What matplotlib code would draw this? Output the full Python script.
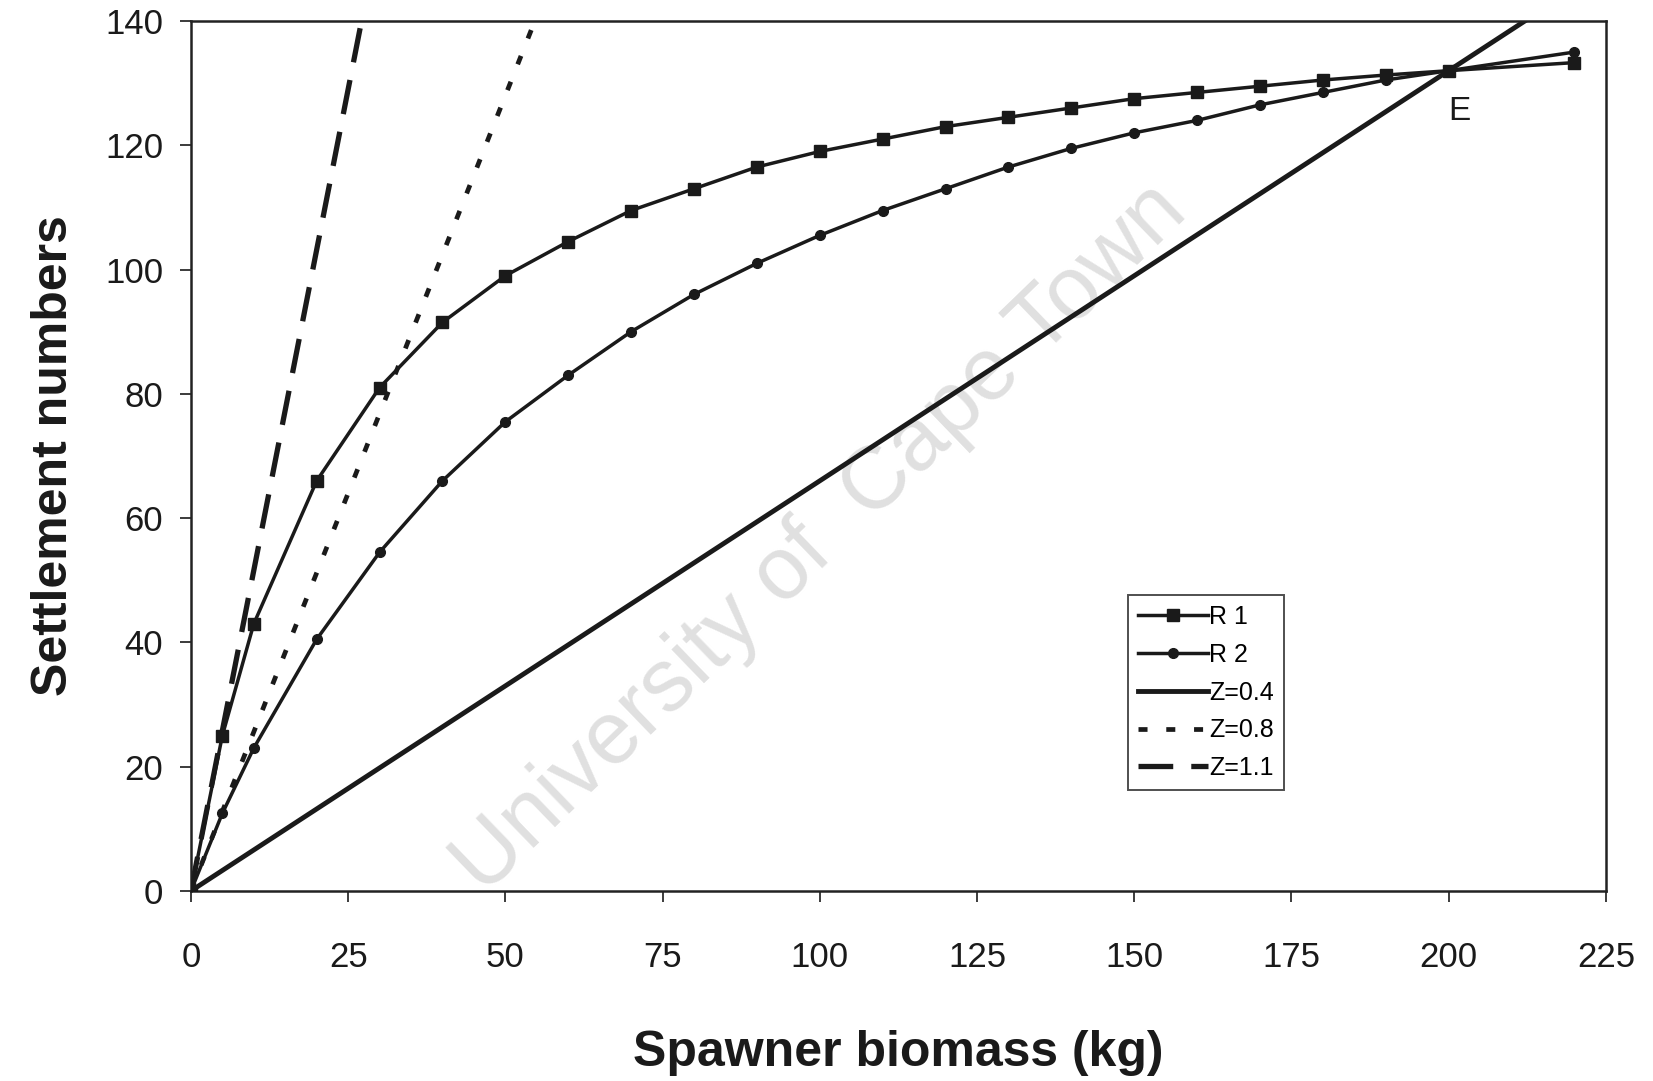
import matplotlib
matplotlib.use('Agg')
import matplotlib.pyplot as plt

# spawner biomass (kg) and settlement for the two recruitment curves
r1_x = [0, 5, 10, 20, 30, 40, 50, 60, 70, 80, 90, 100, 110, 120, 130, 140,
        150, 160, 170, 180, 190, 200, 220]
r1_y = [0, 25, 43, 66, 81, 91.5, 99, 104.5, 109.5, 113, 116.5, 119, 121,
        123, 124.5, 126, 127.5, 128.5, 129.5, 130.5, 131.3, 132, 133.3]
r2_x = r1_x
r2_y = [0, 12.5, 23, 40.5, 54.5, 66, 75.5, 83, 90, 96, 101, 105.5, 109.5,
        113, 116.5, 119.5, 122, 124, 126.5, 128.5, 130.5, 132, 135]

# replacement lines (end points only, straight through origin)
z04_x = [0, 220]
z04_y = [0, 145.2]
z08_x = [0, 60]
z08_y = [0, 153.6]
z11_x = [0, 30]
z11_y = [0, 154.8]

xticks = [0, 25, 50, 75, 100, 125, 150, 175, 200, 225]
yticks = [0, 20, 40, 60, 80, 100, 120, 140]

plt.rcParams['font.family'] = ['Liberation Sans', 'DejaVu Sans']
plt.rcParams['lines.scale_dashes'] = False

ink = '#1a1a1a'

fig = plt.figure(figsize=(16.53, 10.81), dpi=100)
ax = fig.add_axes([0.1155, 0.1758, 0.856, 0.8048])

# watermark
ax.text(0.445, 0.405, 'University of  Cape Town', transform=ax.transAxes,
        rotation=44, fontsize=64, color='#e0e0e0', ha='center',
        va='center', rotation_mode='anchor', zorder=0)

ax.plot(r1_x, r1_y, '-', color=ink, lw=2.5, marker='s', ms=8.5,
        label='R 1', zorder=3)
ax.plot(r2_x, r2_y, '-', color=ink, lw=2.5, marker='o', ms=7,
        label='R 2', zorder=3)
ax.plot(z04_x, z04_y, '-', color=ink, lw=3.5, label='Z=0.4', zorder=2)
ax.plot(z08_x, z08_y, color=ink, lw=3.4, dashes=(6.5, 13.5),
        label='Z=0.8', zorder=2)
ax.plot(z11_x, z11_y, color=ink, lw=3.8, dashes=(25, 13),
        label='Z=1.1', zorder=2)

ax.text(201.7, 125.5, 'E', fontsize=24, ha='center', va='center',
        color=ink)

ax.set_xlim(0, 225)
ax.set_ylim(0, 140)
ax.set_xticks(xticks)
ax.set_yticks(yticks)
ax.tick_params(axis='x', direction='out', length=8, width=1.2, pad=28,
               labelsize=25, colors=ink)
ax.tick_params(axis='y', direction='out', length=8, width=1.2, pad=12,
               labelsize=25, colors=ink)
for s in ax.spines.values():
    s.set_linewidth(1.8)
    s.set_color('#222222')

ax.set_xlabel('Spawner biomass (kg)', fontsize=36, fontweight='bold',
              labelpad=40, color=ink)
ax.set_ylabel('Settlement numbers', fontsize=36, fontweight='bold',
              labelpad=20, color=ink)

leg = ax.legend(loc='upper left', bbox_to_anchor=(0.662, 0.34),
                fontsize=18, frameon=True, fancybox=False, shadow=False,
                handlelength=2.8, handletextpad=0.05, labelspacing=0.55,
                borderpad=0.4, borderaxespad=0)
leg.get_frame().set_edgecolor('#222222')
leg.get_frame().set_linewidth(1.4)

fig.savefig('out.png', dpi=100)
